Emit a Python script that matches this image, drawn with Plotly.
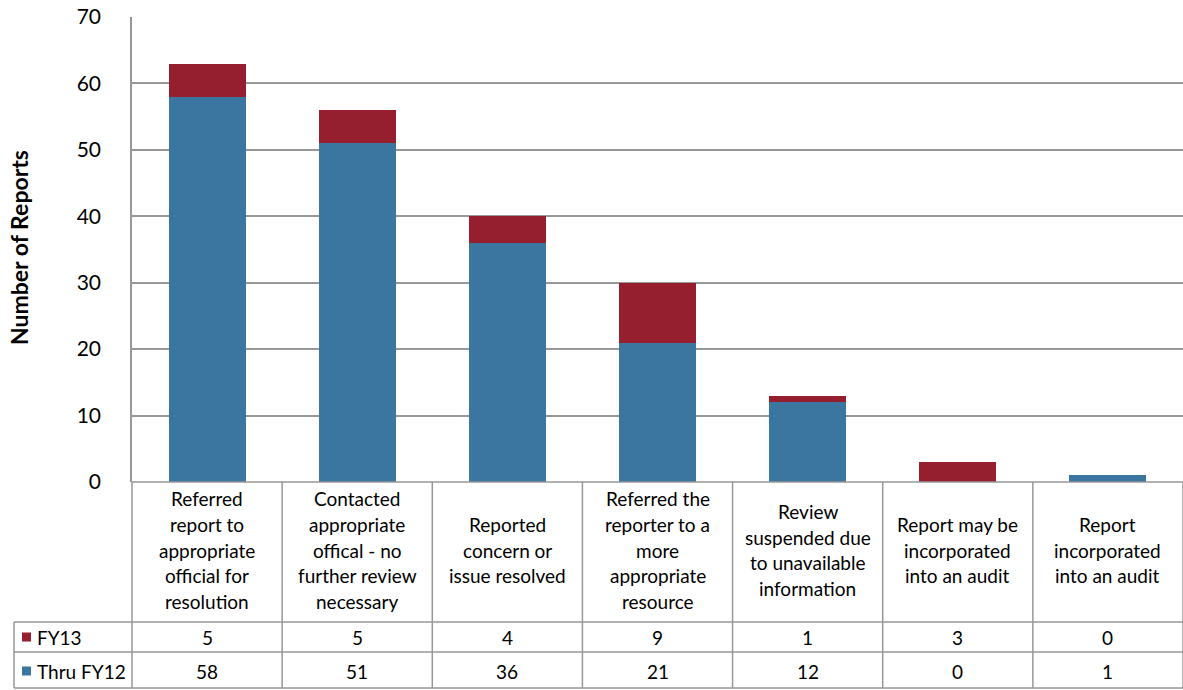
import plotly.graph_objects as go

# ---------------- data ----------------
categories = [
    "Referred<br>report to<br>appropriate<br>official for<br>resolution",
    "Contacted<br>appropriate<br>offical - no<br>further review<br>necessary",
    "Reported<br>concern or<br>issue resolved",
    "Referred the<br>reporter to a<br>more<br>appropriate<br>resource",
    "Review<br>suspended due<br>to unavailable<br>information",
    "Report may be<br>incorporated<br>into an audit",
    "Report<br>incorporated<br>into an audit",
]
fy13 = [5, 5, 4, 9, 1, 3, 0]
thru_fy12 = [58, 51, 36, 21, 12, 0, 1]
series_names = ["FY13", "Thru FY12"]
y_ticks = [0, 10, 20, 30, 40, 50, 60, 70]
y_title = "Number of Reports"

# ---------------- style ----------------
BLUE = "#3A76A0"
RED = "#951F2E"
GRID = "#979797"
FONT = "Lato"
TXT = 19
W, H = 1183, 690
L, T = 132, 17
B_PX = 482  # plot bottom pixel
PW = W - L
PH = B_PX - T


def py(pix):  # pixel y -> paper y
    return (B_PX - pix) / PH


def px(pix):  # pixel x -> paper x
    return (pix - L) / PW


n = len(categories)
xs = list(range(n))

fig = go.Figure()
fig.add_trace(go.Bar(x=xs, y=thru_fy12, name=series_names[1], marker_color=BLUE,
                     marker_line_width=0))
fig.add_trace(go.Bar(x=xs, y=fy13, name=series_names[0], marker_color=RED,
                     marker_line_width=0))

shapes = []
annotations = []

# table horizontal lines
row_lines = [622, 652, 688]
for yp in row_lines:
    shapes.append(dict(type="line", xref="paper", yref="paper", x0=px(14), x1=1,
                       y0=py(yp), y1=py(yp), line=dict(color=GRID, width=1.5)))
shapes.append(dict(type="line", xref="paper", yref="paper", x0=0, x1=1,
                   y0=0, y1=0, line=dict(color=GRID, width=1.5)))
# vertical lines
for i in range(n + 1):
    xp = i / n
    shapes.append(dict(type="line", xref="paper", yref="paper", x0=xp, x1=xp,
                       y0=0, y1=py(688), line=dict(color=GRID, width=1.5)))
shapes.append(dict(type="line", xref="paper", yref="paper", x0=px(14), x1=px(14),
                   y0=py(622), y1=py(688), line=dict(color=GRID, width=1.5)))

# category labels (line by line)
center = 550
spacing = 25.8
for i, lab in enumerate(categories):
    lines = lab.split("<br>")
    m = len(lines)
    for k, ln in enumerate(lines):
        ypix = center + (k - (m - 1) / 2) * spacing
        annotations.append(dict(x=i, xref="x", y=py(ypix), yref="paper", text=ln,
                                showarrow=False, xanchor="center", yanchor="middle",
                                font=dict(family=FONT, size=TXT, color="#000")))

# table values rows
rows = [(fy13, 637, RED, series_names[0]), (thru_fy12, 671, BLUE, series_names[1])]
for vals, ypix, col, name in rows:
    for i, v in enumerate(vals):
        annotations.append(dict(x=i, xref="x", y=py(ypix), yref="paper", text=str(v),
                                showarrow=False, xanchor="center", yanchor="middle",
                                font=dict(family=FONT, size=TXT, color="#000")))
    shapes.append(dict(type="rect", xref="paper", yref="paper",
                       x0=px(22), x1=px(31), y0=py(ypix - 4.5), y1=py(ypix + 4.5),
                       fillcolor=col, line=dict(width=0)))
    annotations.append(dict(x=px(35), xref="paper", y=py(ypix), yref="paper", text=name,
                            showarrow=False, xanchor="left", yanchor="middle",
                            font=dict(family=FONT, size=TXT, color="#000")))

# y-axis title
annotations.append(dict(x=px(19), xref="paper", y=py(248), yref="paper", text="<b>%s</b>" % y_title,
                        showarrow=False, textangle=-90, xanchor="center", yanchor="middle",
                        font=dict(family=FONT, size=23, color="#000")))

fig.update_layout(
    width=W, height=H,
    margin=dict(l=L, r=0, t=T, b=H - B_PX, pad=0),
    barmode="stack", bargap=0.487,
    plot_bgcolor="white", paper_bgcolor="white",
    showlegend=False,
    shapes=shapes, annotations=annotations,
    font=dict(family=FONT, color="#000"),
)
fig.update_xaxes(range=[-0.5, n - 0.5], showticklabels=False, showgrid=False,
                 zeroline=False, showline=False, ticks="", fixedrange=True)
fig.update_yaxes(range=[0, 70], tickvals=y_ticks, showgrid=True, gridcolor=GRID,
                 gridwidth=1.5, zeroline=False, showline=True, linecolor=GRID, linewidth=1.5,
                 ticks="", ticklabelstandoff=25, tickfont=dict(family=FONT, size=21, color="#000"))

fig.write_html("out.html")
